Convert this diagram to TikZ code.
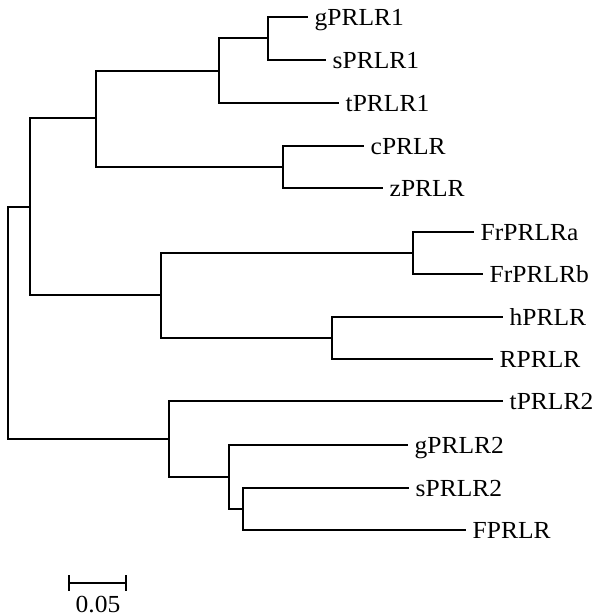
\documentclass[tikz,border=0pt]{standalone}
\usepackage{fontspec}
\setmainfont{Liberation Serif}[FakeStretch=1.04]
\usetikzlibrary{calc}
\begin{document}
\begin{tikzpicture}[x=1pt,y=-1pt,
  branch/.style={line width=1.6pt,line join=miter,line cap=rect},
  taxon/.style={anchor=base west,inner sep=0pt,font=\fontsize{24.5}{27}\selectfont},
  barlabel/.style={anchor=base,inner sep=0pt,font=\fontsize{24.5}{27}\selectfont}]
\useasboundingbox (0,0) rectangle (597,616);
% internal nodes (x = distance from root, y = mid of children)
\coordinate (R) at (8,323);
\coordinate (A) at (30,207);
\coordinate (B) at (96,118);
\coordinate (C) at (219,71);
\coordinate (E) at (268,38);
\coordinate (D) at (283,167);
\coordinate (F) at (161,295);
\coordinate (G) at (413,253);
\coordinate (H) at (332,338);
\coordinate (I) at (169,439);
\coordinate (J) at (229,477);
\coordinate (K) at (243,509);
% leaf tips
\coordinate (gPRLR1) at (307,17);
\coordinate (sPRLR1) at (325,60);
\coordinate (tPRLR1) at (338,103);
\coordinate (cPRLR) at (363,146);
\coordinate (zPRLR) at (382,188);
\coordinate (FrPRLRa) at (473,232);
\coordinate (FrPRLRb) at (482,274);
\coordinate (hPRLR) at (502,317);
\coordinate (RPRLR) at (492,359);
\coordinate (tPRLR2) at (502,401);
\coordinate (gPRLR2) at (407,445);
\coordinate (sPRLR2) at (408,488);
\coordinate (FPRLR) at (465,530);
% branches
\draw[branch] (R) |- (A); \draw[branch] (R) |- (I);
\draw[branch] (A) |- (B); \draw[branch] (A) |- (F);
\draw[branch] (B) |- (C); \draw[branch] (B) |- (D);
\draw[branch] (C) |- (E); \draw[branch] (C) |- (tPRLR1);
\draw[branch] (E) |- (gPRLR1); \draw[branch] (E) |- (sPRLR1);
\draw[branch] (D) |- (cPRLR); \draw[branch] (D) |- (zPRLR);
\draw[branch] (F) |- (G); \draw[branch] (F) |- (H);
\draw[branch] (G) |- (FrPRLRa); \draw[branch] (G) |- (FrPRLRb);
\draw[branch] (H) |- (hPRLR); \draw[branch] (H) |- (RPRLR);
\draw[branch] (I) |- (tPRLR2); \draw[branch] (I) |- (J);
\draw[branch] (J) |- (gPRLR2); \draw[branch] (J) |- (K);
\draw[branch] (K) |- (sPRLR2); \draw[branch] (K) |- (FPRLR);
% taxon labels
\foreach \t in {gPRLR1,sPRLR1,tPRLR1,cPRLR,zPRLR,FrPRLRa,FrPRLRb,hPRLR,RPRLR,tPRLR2,gPRLR2,sPRLR2,FPRLR}
  \node[taxon] (lab-\t) at ($(\t)+(7.5,8)$) {\t};
% scale bar
\coordinate (sbL) at (69,583);
\coordinate (sbR) at (126,583);
\draw[branch,line cap=butt] (sbL) -- (sbR);
\draw[branch,line cap=butt] ($(sbL)+(0,-8)$) -- ($(sbL)+(0,8)$);
\draw[branch,line cap=butt] ($(sbR)+(0,-8)$) -- ($(sbR)+(0,8)$);
\node[barlabel] (sblab) at (98,612) {0.05};
\end{tikzpicture}
\end{document}
